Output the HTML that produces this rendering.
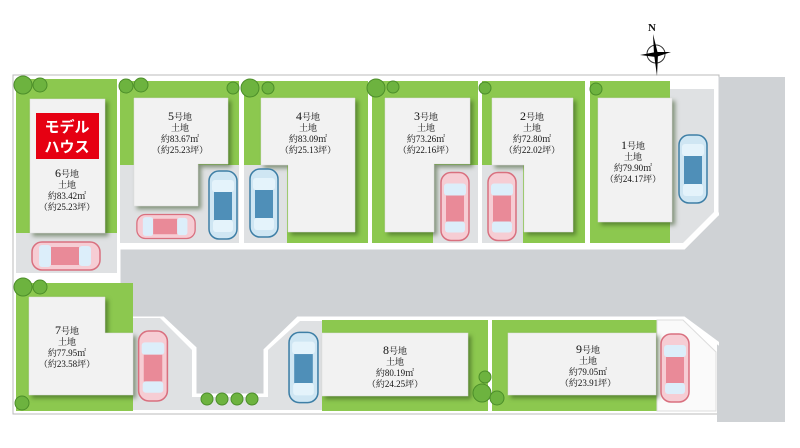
<!DOCTYPE html>
<html><head><meta charset="utf-8"><style>
html,body{margin:0;padding:0;background:#fff;width:800px;height:448px;overflow:hidden}
svg text{font-family:"Liberation Serif","Noto Serif CJK SC",serif;fill:#111;text-anchor:middle}
</style></head><body>
<svg width="800" height="448" viewBox="0 0 800 448" xmlns="http://www.w3.org/2000/svg">
<defs>
<symbol id="cp" viewBox="0 0 30 70"><rect x="1" y="1" width="28" height="68" rx="10" fill="#f6cdd4" stroke="#d9707f" stroke-width="1.5"/><rect x="4" y="12" width="22" height="12" rx="3" fill="#dceefa"/><rect x="6" y="24" width="18" height="26" fill="#e98a98"/><rect x="5" y="50" width="20" height="11" rx="3" fill="#dceefa"/></symbol>
<symbol id="cb" viewBox="0 0 30 70"><rect x="1" y="1" width="28" height="68" rx="10" fill="#cfe6f3" stroke="#3e7fa6" stroke-width="1.5"/><rect x="4" y="10" width="22" height="12" rx="3" fill="#e4f3fb"/><rect x="6" y="22" width="18" height="28" fill="#4f8fb8"/><rect x="5" y="50" width="20" height="12" rx="3" fill="#e4f3fb"/></symbol>
<symbol id="ch" viewBox="0 0 70 30"><rect x="1" y="1" width="68" height="28" rx="10" fill="#f6cdd4" stroke="#d9707f" stroke-width="1.5"/><rect x="8" y="4" width="12" height="22" rx="3" fill="#dceefa"/><rect x="20" y="6" width="28" height="18" fill="#e98a98"/><rect x="48" y="5" width="12" height="20" rx="3" fill="#dceefa"/></symbol>
</defs>
<!-- site base frame -->
<rect x="13" y="75" width="706" height="339" fill="#fff" stroke="#bbb" stroke-width="1"/>
<!-- outer road -->
<rect x="717" y="77" width="68" height="345" fill="#cfd2d5"/>
<!-- top lots green -->
<rect x="16" y="79" width="101" height="166" fill="#8cc84f"/>
<rect x="120" y="81" width="119" height="162" fill="#8cc84f"/>
<rect x="244" y="81" width="124" height="162" fill="#8cc84f"/>
<rect x="372" y="81" width="106" height="162" fill="#8cc84f"/>
<rect x="482" y="81" width="103" height="162" fill="#8cc84f"/>
<rect x="590" y="81" width="80" height="162" fill="#8cc84f"/>
<polygon points="670,89 714,89 714,212 683,243 670,243" fill="#dfe1e3"/>
<polyline points="717,77 717,213 684,247" fill="none" stroke="#fff" stroke-width="3"/>
<!-- parking areas top -->
<rect x="16" y="233" width="101" height="40" fill="#dfe1e3"/>
<rect x="120" y="165" width="119" height="78" fill="#dfe1e3"/>
<rect x="244" y="165" width="43" height="78" fill="#dfe1e3"/>
<rect x="433" y="165" width="45" height="78" fill="#dfe1e3"/>
<rect x="482" y="165" width="41" height="78" fill="#dfe1e3"/>
<!-- dividers -->
<g fill="#fff"><rect x="117" y="79" width="3" height="195"/><rect x="240" y="79" width="4" height="166"/><rect x="368" y="79" width="4" height="166"/><rect x="478" y="79" width="4" height="166"/><rect x="585" y="79" width="5" height="166"/></g>
<!-- central road -->
<polygon points="119,248 684,248 718,214 730,214 730,352 684,318 298,318 265,350 265,395 195,395 195,348 163,318 119,318" fill="#cfd2d5" stroke="#fff" stroke-width="3"/>
<rect x="719" y="200" width="14" height="160" fill="#cfd2d5"/>
<!-- bottom lots -->
<rect x="16" y="283" width="117" height="128" fill="#8cc84f"/>
<polygon points="133,318 160,318 192,350 192,410 133,410" fill="#dfe1e3"/>
<rect x="192" y="397" width="76" height="13" fill="#dfe1e3"/>
<polygon points="268,350 300,321 322,321 322,410 268,410" fill="#dfe1e3"/>
<rect x="322" y="320" width="166" height="91" fill="#8cc84f"/>
<rect x="492" y="320" width="165" height="91" fill="#8cc84f"/>
<polygon points="657,320 683,320 716,352 716,411 657,411" fill="#fafafa" stroke="#ddd"/>
<rect x="488" y="318" width="4" height="94" fill="#fff"/>
<!-- houses -->
<g fill="#f2f2f2" stroke="#ddd" stroke-width="0.5" style="filter:drop-shadow(3px 3px 2px rgba(40,70,20,.5))">
<rect x="30" y="99" width="75" height="134"/>
<polygon points="134,98 228,98 228,164 198,164 198,206 134,206"/>
<polygon points="261,98 355,98 355,232 288,232 288,165 261,165"/>
<polygon points="385,98 470,98 470,164 434,164 434,232 385,232"/>
<polygon points="492,98 573,98 573,232 524,232 524,165 492,165"/>
<rect x="598" y="98" width="74" height="124"/>
<polygon points="29,297 105,297 105,333 133,333 133,395 29,395"/>
<rect x="322" y="333" width="146" height="63"/>
<rect x="508" y="333" width="148" height="62"/>
</g>
<rect x="36" y="113" width="63" height="46" fill="#e60012"/>
<text x="67" y="132" style="font-family:'Liberation Sans','Noto Sans CJK JP',sans-serif;font-weight:bold;font-size:15px;fill:#fff">モデル</text>
<text x="67" y="152" style="font-family:'Liberation Sans','Noto Sans CJK JP',sans-serif;font-weight:bold;font-size:15px;fill:#fff">ハウス</text>
<!-- labels -->
<g font-size="9">
<text x="67" y="177"><tspan font-size="12">6</tspan>号地</text><text x="67" y="188">土地</text><text x="67" y="199">約83.42㎡</text><text x="67" y="210">（約25.23坪）</text>
<text x="180" y="120"><tspan font-size="12">5</tspan>号地</text><text x="180" y="131">土地</text><text x="180" y="142">約83.67㎡</text><text x="180" y="153">（約25.23坪）</text>
<text x="308" y="120"><tspan font-size="12">4</tspan>号地</text><text x="308" y="131">土地</text><text x="308" y="142">約83.09㎡</text><text x="308" y="153">（約25.13坪）</text>
<text x="426" y="120"><tspan font-size="12">3</tspan>号地</text><text x="426" y="131">土地</text><text x="426" y="142">約73.26㎡</text><text x="426" y="153">（約22.16坪）</text>
<text x="532" y="120"><tspan font-size="12">2</tspan>号地</text><text x="532" y="131">土地</text><text x="532" y="142">約72.80㎡</text><text x="532" y="153">（約22.02坪）</text>
<text x="633" y="149"><tspan font-size="12">1</tspan>号地</text><text x="633" y="160">土地</text><text x="633" y="171">約79.90㎡</text><text x="633" y="182">（約24.17坪）</text>
<text x="67" y="334"><tspan font-size="12">7</tspan>号地</text><text x="67" y="345">土地</text><text x="67" y="356">約77.95㎡</text><text x="67" y="367">（約23.58坪）</text>
<text x="395" y="354"><tspan font-size="12">8</tspan>号地</text><text x="395" y="365">土地</text><text x="395" y="376">約80.19㎡</text><text x="395" y="387">（約24.25坪）</text>
<text x="588" y="353"><tspan font-size="12">9</tspan>号地</text><text x="588" y="364">土地</text><text x="588" y="375">約79.05㎡</text><text x="588" y="386">（約23.91坪）</text>
</g>
<!-- cars -->
<use href="#ch" x="30" y="241" width="72" height="30"/>
<use href="#ch" x="136" y="212" width="60" height="29"/>
<use href="#cb" x="208" y="170" width="30" height="70"/>
<use href="#cb" x="249" y="167" width="30" height="72"/>
<use href="#cp" x="440" y="170" width="30" height="73"/>
<use href="#cp" x="487" y="170" width="30" height="73"/>
<use href="#cb" x="678" y="133" width="30" height="72"/>
<use href="#cp" x="137" y="330" width="32" height="72"/>
<use href="#cb" x="288" y="331" width="31" height="73"/>
<use href="#cp" x="660" y="333" width="30" height="70"/>
<!-- trees -->
<g fill="#6db33f" stroke="#4c8e2a" stroke-width="1">
<circle cx="23" cy="85" r="9"/><circle cx="40" cy="85" r="7"/>
<circle cx="126" cy="86" r="7"/><circle cx="141" cy="85" r="7"/>
<circle cx="233" cy="88" r="6"/><circle cx="250" cy="88" r="9"/><circle cx="268" cy="88" r="6"/>
<circle cx="376" cy="88" r="9"/><circle cx="393" cy="87" r="6"/>
<circle cx="485" cy="88" r="6"/><circle cx="596" cy="89" r="6"/>
<circle cx="23" cy="287" r="9"/><circle cx="40" cy="287" r="7"/><circle cx="22" cy="403" r="7"/>
<circle cx="207" cy="399" r="6"/><circle cx="222" cy="399" r="6"/><circle cx="237" cy="399" r="6"/><circle cx="252" cy="399" r="6"/>
<circle cx="485" cy="377" r="6"/><circle cx="482" cy="393" r="9"/><circle cx="497" cy="398" r="7"/>
</g>
<!-- compass -->
<text x="652" y="31" font-size="11" font-weight="bold">N</text>
<circle cx="656" cy="54" r="9" fill="none" stroke="#333" stroke-width="1"/>
<polygon points="653,34 658,54 657,76 654,54" fill="#000"/>
<polygon points="640,55 656,52 671,52 656,57" fill="#000"/>
</svg>
</body></html>
